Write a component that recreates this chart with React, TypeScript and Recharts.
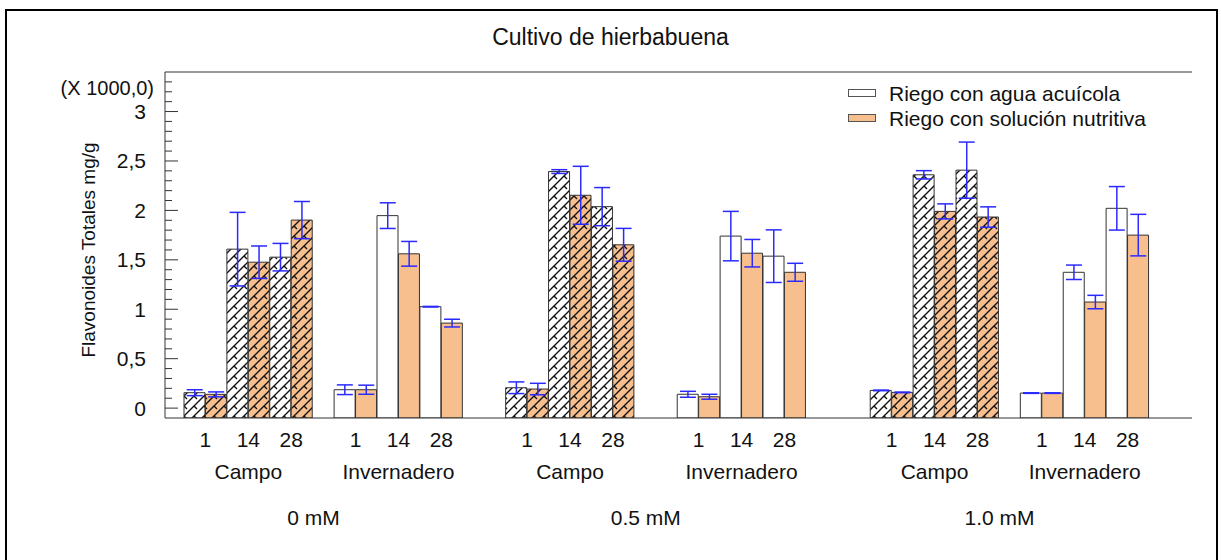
import React from "react";
import { ComposedChart, Bar, Line, XAxis, YAxis, Cell, ErrorBar, ReferenceLine } from "recharts";

const concentrations = ["0 mM", "0.5 mM", "1.0 mM"];
const sites = ["Campo", "Invernadero"];
const days = ["1", "14", "28"];

// order: concentration -> site -> day
const aguaMeans = [
  0.156, 1.608, 1.527, 0.186, 1.947, 1.026,
  0.206, 2.393, 2.038, 0.14, 1.74, 1.537,
  0.179, 2.36, 2.407, 0.152, 1.374, 2.021,
];
const aguaErrors = [
  0.03, 0.372, 0.139, 0.049, 0.13, 0.003,
  0.059, 0.019, 0.193, 0.03, 0.25, 0.266,
  0.003, 0.042, 0.284, 0.003, 0.073, 0.22,
];
const solMeans = [
  0.139, 1.476, 1.902, 0.186, 1.561, 0.86,
  0.193, 2.153, 1.652, 0.115, 1.567, 1.374,
  0.159, 1.99, 1.933, 0.152, 1.073, 1.75,
];
const solErrors = [
  0.025, 0.164, 0.188, 0.046, 0.125, 0.039,
  0.058, 0.293, 0.166, 0.025, 0.139, 0.091,
  0.003, 0.076, 0.103, 0.003, 0.068, 0.21,
];
// empty slots before each block (concentration x site)
const gapsBefore = [0, 1, 2, 2, 3, 1];

const yTicks = [
  0, 0.1, 0.2, 0.3, 0.4, 0.5, 0.6, 0.7, 0.8, 0.9, 1, 1.1, 1.2, 1.3, 1.4, 1.5, 1.6,
  1.7, 1.8, 1.9, 2, 2.1, 2.2, 2.3, 2.4, 2.5, 2.6, 2.7, 2.8, 2.9, 3, 3.1, 3.2, 3.3,
];
const yLabelled = [0, 0.5, 1, 1.5, 2, 2.5, 3];
const Y_MIN = -0.1;
const Y_MAX = 3.4;

const legendItems = ["Riego con agua acuícola", "Riego con solución nutritiva"];

const ORANGE = "#F8BF8E";
const FONT = "'Liberation Sans', Arial, sans-serif";

type Row = {
  key: string;
  range?: [number, number];
  mean: number | null;
  err: number | null;
  conc?: string;
  site?: string;
  day?: string;
  treat?: "agua" | "sol";
};

const rows: Row[] = [];
let block = 0;
concentrations.forEach((conc) => {
  sites.forEach((site) => {
    for (let g = 0; g < gapsBefore[block]; g++) {
      rows.push({ key: `gap-${block}-${g}`, mean: null, err: null });
    }
    days.forEach((day, di) => {
      const i = block * 3 + di;
      rows.push({ key: `${conc}-${site}-${day}-a`, range: [Y_MIN, aguaMeans[i]], mean: aguaMeans[i], err: aguaErrors[i], conc, site, day, treat: "agua" });
      rows.push({ key: `${conc}-${site}-${day}-s`, range: [Y_MIN, solMeans[i]], mean: solMeans[i], err: solErrors[i], conc, site, day, treat: "sol" });
    });
    block++;
  });
});

const concAnchors = concentrations.map((conc) => {
  const first = rows.findIndex((r) => r.conc === conc);
  let last = first;
  rows.forEach((r, i) => {
    if (r.conc === conc) last = i;
  });
  const mid = (first + last) / 2;
  return { label: conc, index: Math.floor(mid), frac: mid - Math.floor(mid) };
});

const W = 1221;
const H = 560;
const M = { top: 72, right: 29, bottom: 32, left: 105 };
const Y_AXIS_W = 60;
const PAD = { left: 19, right: 43 };
const PLOT_W = W - M.left - M.right - Y_AXIS_W;
const BAND = (PLOT_W - PAD.left - PAD.right) / rows.length;

const fillFor = (r: Row) => {
  if (!r.treat) return "none";
  if (r.site === "Campo") return r.treat === "agua" ? "url(#hatchW)" : "url(#hatchO)";
  return r.treat === "agua" ? "#fff" : ORANGE;
};

const XTick = (props: any) => {
  const { x, y, index } = props;
  const row = rows[index];
  const parts: React.ReactNode[] = [];
  const txt = { fontSize: 21, fontFamily: FONT, fill: "#111", textAnchor: "middle" as const, dominantBaseline: "central" as const };
  if (row && row.treat === "agua") {
    parts.push(<text key="d" x={x + BAND / 2} y={y + 21} {...txt}>{row.day}</text>);
    if (row.day === "14") {
      parts.push(<text key="s" x={x + BAND / 2} y={y + 53} {...txt}>{row.site}</text>);
    }
  }
  concAnchors.forEach((a) => {
    if (a.index === index) {
      parts.push(<text key="c" x={x + a.frac * BAND - 10} y={y + 99} {...txt}>{a.label}</text>);
    }
  });
  return <g>{parts}</g>;
};

const YTickLeft = ({ x, y, payload }: any) => {
  const major = yLabelled.includes(payload.value);
  return (
    <g>
      <line x1={x} x2={x + (major ? 13 : 7)} y1={y} y2={y} stroke="#333" />
      {major && (
        <text x={x - 19} y={y} textAnchor="end" dominantBaseline="central" fontSize={21} fontFamily={FONT} fill="#111">
          {String(payload.value).replace(".", ",")}
        </text>
      )}
    </g>
  );
};

const YTickRight = ({ x, y, payload }: any) => {
  const major = yLabelled.includes(payload.value);
  return <line x1={x - (major ? 12 : 7)} x2={x} y1={y} y2={y} stroke="#333" />;
};

const hatchPath = "M0,10 L10,0 M-2,2 L2,-2 M8,12 L12,8 M4,6 L7,9";

export default function App() {
  return (
    <div style={{ position: "absolute", left: 0, top: 0, width: W, height: H, overflow: "hidden", background: "#fff", fontFamily: FONT }}>
      <div style={{ position: "absolute", left: 5, top: 9, width: 1213, height: 620, border: "2px solid #000", boxSizing: "border-box" }} />
      <div style={{ position: "absolute", left: 0, top: 25.5, width: W, textAlign: "center", fontSize: 23, lineHeight: 1, color: "#111" }}>
        Cultivo de hierbabuena
      </div>
      <div style={{ position: "absolute", right: W - 154, top: 78, fontSize: 20, lineHeight: 1, color: "#111", whiteSpace: "nowrap" }}>
        (X 1000,0)
      </div>
      <div style={{ position: "absolute", left: 88, top: 250, transform: "translate(-50%, -50%) rotate(-90deg)", fontSize: 19, lineHeight: 1, color: "#111", whiteSpace: "nowrap" }}>
        Flavonoides Totales mg/g
      </div>
      <div style={{ position: "absolute", left: 0, top: 0, width: W, height: H }}>
        <ComposedChart width={W} height={H} data={rows} margin={M} barCategoryGap={0} barGap={0}>
          <defs>
            <pattern id="hatchW" patternUnits="userSpaceOnUse" width="10" height="10">
              <rect width="10" height="10" fill="#fff" />
              <path d={hatchPath} stroke="#111" strokeWidth="1.4" />
            </pattern>
            <pattern id="hatchO" patternUnits="userSpaceOnUse" width="10" height="10">
              <rect width="10" height="10" fill={ORANGE} />
              <path d={hatchPath} stroke="#111" strokeWidth="1.4" />
            </pattern>
          </defs>
          <XAxis
            dataKey="key"
            height={110}
            interval={0}
            padding={PAD}
            tickLine={false}
            tickSize={0}
            tickMargin={0}
            axisLine={{ stroke: "#333" }}
            tick={<XTick />}
          />
          <YAxis
            domain={[Y_MIN, Y_MAX]}
            allowDataOverflow
            ticks={yTicks}
            interval={0}
            width={Y_AXIS_W}
            tickLine={false}
            tickSize={0}
            tickMargin={0}
            axisLine={{ stroke: "#333" }}
            tick={<YTickLeft />}
          />
          <YAxis
            yAxisId="right"
            orientation="right"
            domain={[Y_MIN, Y_MAX]}
            allowDataOverflow
            ticks={yTicks}
            interval={0}
            width={0}
            tickLine={false}
            tickSize={0}
            tickMargin={0}
            axisLine={{ stroke: "#333" }}
            tick={<YTickRight />}
          />
          <ReferenceLine y={Y_MAX} stroke="#333" strokeWidth={1} />
          <Bar dataKey="range" isAnimationActive={false}>
            {rows.map((r) => (
              <Cell key={r.key} fill={fillFor(r)} stroke={r.treat ? "#333" : "none"} strokeWidth={1} />
            ))}
          </Bar>
          <Line dataKey="mean" stroke="none" dot={false} activeDot={false} isAnimationActive={false} legendType="none">
            <ErrorBar dataKey="err" stroke="#2a2aff" strokeWidth={1.5} width={8} isAnimationActive={false} />
          </Line>
        </ComposedChart>
      </div>
      {legendItems.map((label, i) => (
        <div key={label} style={{ position: "absolute", left: 848, top: 81 + i * 25, height: 24, display: "flex", alignItems: "center", whiteSpace: "nowrap" }}>
          <span style={{ display: "inline-block", width: 28, height: 8, boxSizing: "border-box", border: "1px solid #555", background: i === 0 ? "#fff" : ORANGE }} />
          <span style={{ marginLeft: 13, fontSize: 21, lineHeight: 1, color: "#111" }}>{label}</span>
        </div>
      ))}
    </div>
  );
}
